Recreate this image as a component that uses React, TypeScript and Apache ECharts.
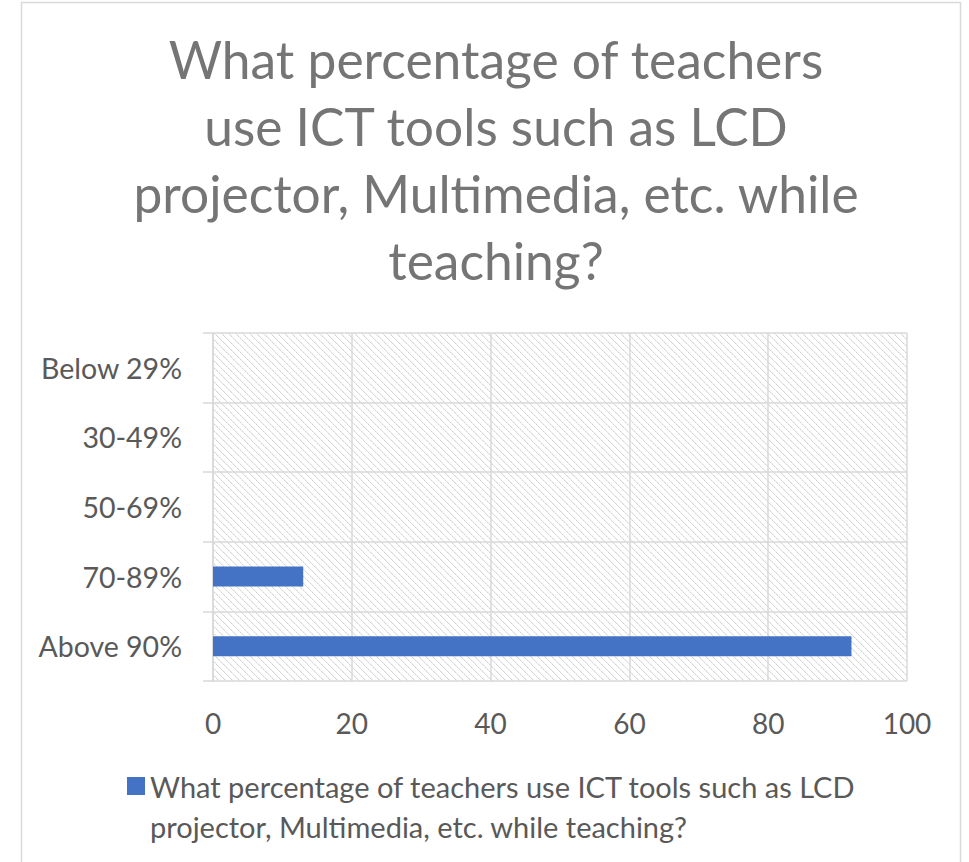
import React, { useEffect, useRef } from "react";
import * as echarts from "echarts";

const titleLines = [
  "What percentage of teachers",
  "use ICT tools such as LCD",
  "projector, Multimedia, etc. while",
  "teaching?",
];
const seriesName =
  "What percentage of teachers use ICT tools such as LCD projector, Multimedia, etc. while teaching?";
const categories = ["Below 29%", "30-49%", "50-69%", "70-89%", "Above 90%"];
const values = [0, 0, 0, 13, 92];
const xTicks = { min: 0, max: 100, interval: 20 };

function makeHatch(): HTMLCanvasElement {
  const p = 7;
  const c = document.createElement("canvas");
  c.width = p;
  c.height = p;
  const ctx = c.getContext("2d")!;
  ctx.fillStyle = "#ffffff";
  ctx.fillRect(0, 0, p, p);
  for (let i = 0; i < p; i++) {
    ctx.fillStyle = i % 2 === 0 ? "#d4d4d4" : "#e6e6e6";
    ctx.fillRect(i, i, 1, 1);
    ctx.fillStyle = "#f4f4f4";
    ctx.fillRect((i + 1) % p, i, 1, 1);
  }
  return c;
}

export default function App() {
  const ref = useRef<HTMLDivElement>(null);
  useEffect(() => {
    if (!ref.current) return;
    const chart = echarts.init(ref.current, null, { renderer: "svg" });
    const font = "Lato";
    const grey = "#d9d9d9";
    chart.setOption({
      animation: false,
      backgroundColor: "#ffffff",
      graphic: [
        {
          type: "rect",
          shape: { x: 21.5, y: 2.5, width: 939, height: 900 },
          style: { fill: "none", stroke: grey, lineWidth: 1.5 },
          silent: true,
          z: -1,
        },
      ],
      title: {
        text: titleLines.join("\n"),
        left: 491,
        top: 20,
        textAlign: "center",
        textStyle: {
          fontFamily: font,
          fontSize: 51.5,
          fontWeight: "normal",
          color: "#757575",
          lineHeight: 67,
        },
      },
      legend: {
        left: 127,
        top: 766,
        padding: 0,
        itemWidth: 18,
        itemHeight: 58,
        itemGap: 0,
        icon: "path://M0,0h18v18h-18z M0,57.9h0.1v0.1h-0.1z",
        textStyle: {
          fontFamily: font,
          fontSize: 29,
          color: "#595959",
          lineHeight: 40,
          width: 760,
          overflow: "break",
        },
      },
      grid: {
        left: 213,
        right: 62,
        top: 333,
        bottom: 181,
        show: true,
        borderWidth: 0,
        backgroundColor: { image: makeHatch(), repeat: "repeat" },
      },
      xAxis: {
        type: "value",
        min: xTicks.min,
        max: xTicks.max,
        interval: xTicks.interval,
        axisLine: { show: false },
        axisTick: { show: false },
        splitLine: { show: true, lineStyle: { color: grey, width: 1.5 } },
        axisLabel: {
          fontFamily: font,
          fontSize: 28,
          color: "#595959",
          margin: 28,
        },
      },
      yAxis: {
        type: "category",
        data: categories,
        inverse: true,
        axisLine: { show: true, lineStyle: { color: grey, width: 1.5 } },
        axisTick: { show: true, length: 10, lineStyle: { color: grey, width: 1.5 } },
        splitLine: { show: true, lineStyle: { color: grey, width: 1.5 } },
        axisLabel: {
          fontFamily: font,
          fontSize: 28.5,
          color: "#595959",
          margin: 31,
        },
      },
      series: [
        {
          name: seriesName,
          type: "bar",
          data: values,
          barWidth: 20,
          itemStyle: { color: "#4472C4" },
        },
      ],
    });
    return () => chart.dispose();
  }, []);
  return (
    <div
      ref={ref}
      style={{ position: "absolute", left: 0, top: 0, width: 969, height: 862 }}
    />
  );
}
